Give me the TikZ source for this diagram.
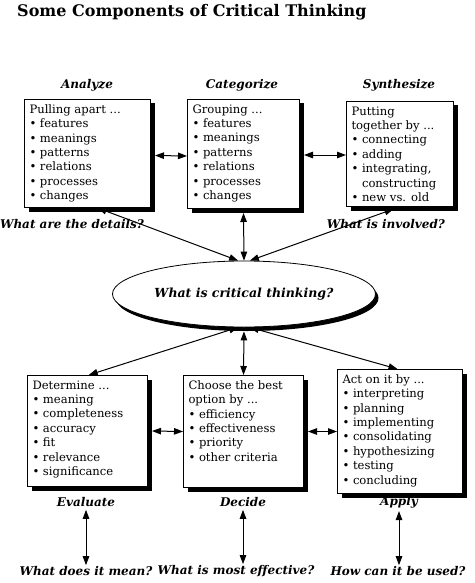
\documentclass[tikz,border=0pt]{standalone}
\usepackage{fontspec}
\setmainfont{DejaVu Serif}
\usetikzlibrary{shapes.geometric,shadows,arrows.meta,calc}
\newcommand{\bl}{\makebox[10.5pt][l]{\textbullet}}
\newcommand{\bxtext}[3]{\parbox[c][#2pt][t]{#1pt}{\raggedright\fontsize{11.6}{14.4}\selectfont #3}}
\begin{document}
\begin{tikzpicture}[x=1pt,y=-1pt,
  box/.style={draw,line width=1pt,fill=white,anchor=north west,inner xsep=5pt,inner ysep=5pt,
    drop shadow={shadow xshift=4pt,shadow yshift=-4pt,fill=black,opacity=1}},
  ell/.style={draw,ellipse,line width=0.8pt,fill=white,inner sep=0pt,
    drop shadow={shadow xshift=3pt,shadow yshift=-4pt,fill=black,opacity=1}},
  lab/.style={font=\fontsize{12}{14}\selectfont\bfseries\itshape,inner sep=1pt},
  dbl/.style={line width=1pt,{Triangle[length=9pt,width=6.5pt]}-{Triangle[length=9pt,width=6.5pt]}}]
\useasboundingbox (0,0) rectangle (474,583);
\node[anchor=base west,inner sep=0pt,font=\fontsize{16}{18}\selectfont\bfseries] (title) at (17,17) {Some Components of Critical Thinking};
% top labels
\node[lab] (l1) at (87,85) {Analyze};
\node[lab] (l2) at (242,85) {Categorize};
\node[lab] (l3) at (399,85) {Synthesize};
% top boxes
\node[box] (b1) at (24,99) {\bxtext{116}{98}{Pulling apart ...\\\bl features\\\bl meanings\\\bl patterns\\\bl relations\\\bl processes\\\bl changes}};
\node[box] (b2) at (187,99) {\bxtext{102}{99}{Grouping ...\\\bl features\\\bl meanings\\\bl patterns\\\bl relations\\\bl processes\\\bl changes}};
\node[box] (b3) at (346,101) {\bxtext{97}{95}{Putting\\together by ...\\\bl connecting\\\bl adding\\\bl integrating,\\\hspace*{10.5pt}constructing\\\bl new vs. old}};
% top questions
\node[lab] (q1) at (72,224) {What are the details?};
\node[lab] (q3) at (386,224) {What is involved?};
% ellipse
\node[ell,minimum width=263pt,minimum height=66pt,font=\fontsize{12.5}{15}\selectfont\bfseries\itshape] (ell) at (244,294) {What is critical thinking?};
% bottom boxes
\node[box] (b4) at (27,375) {\bxtext{110}{101}{Determine ...\\\bl meaning\\\bl completeness\\\bl accuracy\\\bl fit\\\bl relevance\\\bl significance}};
\node[box] (b5) at (183,375) {\bxtext{110}{102}{Choose the best\\option by ...\\\bl efficiency\\\bl effectiveness\\\bl priority\\\bl other criteria}};
\node[box] (b6) at (337,369) {\bxtext{115}{114}{Act on it by ...\\\bl interpreting\\\bl planning\\\bl implementing\\\bl consolidating\\\bl hypothesizing\\\bl testing\\\bl concluding}};
% bottom labels
\node[lab] (l4) at (86,502) {Evaluate};
\node[lab] (l5) at (243,502) {Decide};
\node[lab] (l6) at (399,502) {Apply};
% bottom questions
\node[lab] (q4) at (86,571) {What does it mean?};
\node[lab] (q5) at (236,571) {What is most effective?};
\node[lab] (q6) at (398,571) {How can it be used?};
% connectors
\draw[dbl] ($(b1.east)+(4,2)$) -- ($(b2.west)+(0,2)$);
\draw[dbl] ($(b2.east)+(4,1)$) -- ($(b3.west)+(0,1)$);
\draw[dbl] ($(b4.east)+(4,0)$) -- (b5.west);
\draw[dbl] ($(b5.east)+(4,0)$) -- (b6.west);
\draw[dbl] ($(b1.south west)!0.58!(b1.south east)$) -- (ell.100);
\draw[dbl] ($(b2.south)+(0,4)$) -- (ell.90);
\draw[dbl] ($(b3.south west)!0.44!(b3.south east)+(0,2)$) -- (ell.80);
\draw[dbl] (ell.260) -- ($(b4.north west)!0.51!(b4.north east)$);
\draw[dbl] ($(ell.270)+(0,4)$) -- (b5.north);
\draw[dbl] (ell.280) -- ($(b6.north west)!0.48!(b6.north east)$);
\draw[dbl] ($(l4.south)+(0,2)$) -- (l4.south |- q4.north);
\draw[dbl] ($(l5.south)+(0,2)$) -- (l5.south |- q5.north);
\draw[dbl] ($(l6.south)+(0,2)$) -- (l6.south |- q6.north);
\end{tikzpicture}
\end{document}
